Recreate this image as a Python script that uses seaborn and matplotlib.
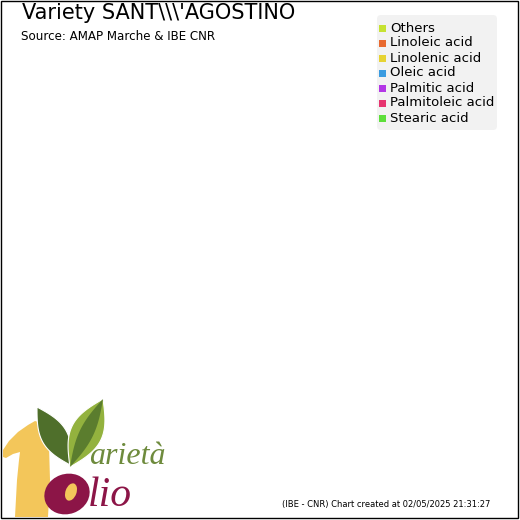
import numpy as np
import matplotlib
matplotlib.use("Agg")
import matplotlib.pyplot as plt
from matplotlib.patches import Polygon, Ellipse, Rectangle, FancyBboxPatch
import seaborn as sns

# ---- data ----
title = "Variety SANT\\\\\\'AGOSTINO"
subtitle = "Source: AMAP Marche & IBE CNR"
credit = "(IBE - CNR) Chart created at 02/05/2025 21:31:27"
categories = ["Others", "Linoleic acid", "Linolenic acid", "Oleic acid",
              "Palmitic acid", "Palmitoleic acid", "Stearic acid"]
values = []  # no values available for this variety (empty chart)
colors = ["#c6e232", "#e8692f", "#e6d332", "#3a9be0", "#b336e6", "#e6346f", "#5ddf3a"]

sns.set_theme(style="white")
plt.rcParams['font.family'] = ['DejaVu Sans']

fig = plt.figure(figsize=(5.2, 5.2), dpi=100)
fig.patch.set_facecolor("white")

# main (pie) axes
ax = fig.add_axes([0.1, 0.15, 0.6, 0.6])
ax.set_axis_off()
palette = sns.color_palette(colors)
if len(values) > 0 and sum(values) > 0:
    ax.pie(values, colors=palette[:len(values)], startangle=90)
    ax.set_aspect("equal")

# overlay axes in pixel coordinates for decorations
ov = fig.add_axes([0, 0, 1, 1], zorder=5)
ov.set_xlim(0, 520)
ov.set_ylim(520, 0)
ov.set_axis_off()
ov.patch.set_alpha(0)

# border
ov.add_patch(Rectangle((0.5, 0.5), 517, 517, fill=False, ec="black", lw=1.0))

# title & subtitle
ov.text(22, 13, title, fontsize=15.0, va="center", ha="left", color="black")
ov.text(21, 37, subtitle, fontsize=8.6, va="center", ha="left", color="black")

# legend
lg_box = FancyBboxPatch((377, 15), 120, 115, boxstyle="round,pad=0,rounding_size=4",
                        fc="#f2f2f2", ec="none")
ov.add_patch(lg_box)
for i, (cat, col) in enumerate(zip(categories, palette)):
    y = 28 + 15 * i
    ov.add_patch(Rectangle((379, y - 3.5), 7, 7, fc=col, ec="none"))
    ov.text(390, y, cat, fontsize=9.55, va="center", ha="left", color="black")

# credit
ov.text(490, 504, credit, fontsize=6.0, va="center", ha="right", color="black")

# ---- logo ----
one = [(3, 450), (9, 441), (18, 432), (28, 425), (35, 421), (42, 423), (47, 428),
       (49, 445), (50, 480), (48, 517), (15, 517), (17, 480), (19, 460), (20, 452),
       (13, 454), (6, 458), (3, 457)]
ov.add_patch(Polygon(one, closed=True, fc="#f3c65a", ec="none"))


def leaf(p0, p1, w, n=40):
    p0 = np.array(p0, float); p1 = np.array(p1, float)
    d = p1 - p0
    L = np.hypot(*d)
    u = d / L
    nv = np.array([-u[1], u[0]])
    t = np.linspace(0, 1, n)
    off = w / 2 * np.sin(np.pi * t)
    side1 = p0 + np.outer(t * L, u) + np.outer(off, nv)
    side2 = p0 + np.outer(t * L, u) - np.outer(off, nv)
    return np.vstack([side1, side2[::-1]])

ov.add_patch(Polygon(leaf((37, 407), (72, 466), 26), fc="#4f6f2b", ec="white", lw=0.8))
ov.add_patch(Polygon(leaf((103, 399), (70, 467), 32), fc="#93b23e", ec="white", lw=0.8))
ov.add_patch(Polygon(leaf((103, 399), (70, 467), 14), fc="#5b7d2e", ec="none"))

ov.text(89, 464, "arietà", fontsize=23, family="Liberation Serif", style="italic",
        color="#6e8b3d", ha="left", va="baseline")

ov.add_patch(Ellipse((67, 494), 46, 40, angle=-20, fc="#8c1547", ec="none"))
ov.add_patch(Ellipse((71, 492), 11, 18, angle=20, fc="#f3c65a", ec="none"))
ov.text(88, 506, "lio", fontsize=30, family="Liberation Serif", style="italic",
        color="#8c1547", ha="left", va="baseline")

fig.savefig("out.png", dpi=100, facecolor="white")
